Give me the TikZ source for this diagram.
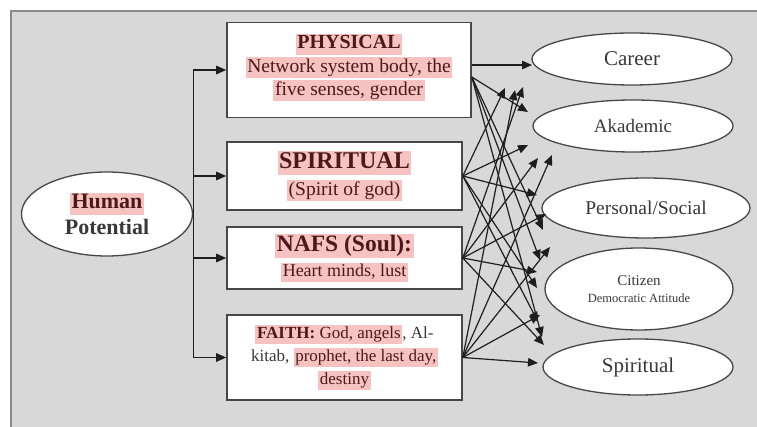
\documentclass[tikz,border=0pt]{standalone}
\usepackage{fontspec}
\setmainfont{Liberation Serif}
\usetikzlibrary{arrows.meta,shapes.geometric}
\definecolor{panel}{HTML}{D8D8D8}
\definecolor{paneledge}{HTML}{8A8A8A}
\definecolor{hlpink}{HTML}{F6C2C2}
\definecolor{hltext}{HTML}{4E1818}
\definecolor{txt}{HTML}{383838}
\definecolor{boxedge}{HTML}{474747}
\definecolor{lineclr}{HTML}{1E1E1E}
\newcommand\hlt[1]{{\setlength{\fboxsep}{1.6pt}\colorbox{hlpink}{\color{hltext}\vphantom{Ay}#1}}}
\tikzset{
  boxnode/.style={draw=boxedge, line width=1.6pt, fill=white, rectangle, inner sep=0pt, align=center, text=txt},
  ellnode/.style={draw=boxedge, line width=1.3pt, fill=white, ellipse, inner sep=0pt, align=center, text=txt},
  conn/.style={draw=lineclr, line width=1.2pt, -{Triangle[length=10pt,width=8.5pt]}}
}
\begin{document}
\begin{tikzpicture}[x=1pt,y=-1pt]
\useasboundingbox (0,0) rectangle (757,427);
\fill[white] (0,0) rectangle (757,427);
\fill[panel] (10,10) rectangle (757,427);
\draw[paneledge, line width=1.6pt] (11,427) -- (11,11) -- (757,11);

% left ellipse
\node[ellnode, minimum width=171, minimum height=84, font=\fontsize{22}{26}\selectfont\bfseries] (hp) at (107,214)
  {\hlt{Human}\\ Potential};

% boxes
\node[boxnode, minimum width=244, minimum height=95, font=\fontsize{19.5}{23.5}\selectfont] (phys) at (349,70)
  {{\fontsize{20}{24}\selectfont\bfseries\hlt{PHYSICAL}}\\ \hlt{Network system body, the}\\ \hlt{five senses, gender}\\[-13pt]};
\node[boxnode, minimum width=235, minimum height=68, font=\fontsize{19.5}{27}\selectfont] (spir) at (344.5,176)
  {{\fontsize{24}{28}\selectfont\bfseries\hlt{SPIRITUAL}}\\ \hlt{(Spirit of god)}};
\node[boxnode, minimum width=235, minimum height=62, font=\fontsize{18}{25}\selectfont] (nafs) at (344.5,258)
  {{\fontsize{23.5}{27}\selectfont\bfseries\hlt{NAFS (Soul):}}\\ \hlt{Heart minds, lust}};
\node[boxnode, minimum width=235, minimum height=85, font=\fontsize{17}{23}\selectfont] (faith) at (344.5,357.5)
  {\hlt{\textbf{FAITH:} God, angels}, Al-\\ kitab, \hlt{prophet, the last day,}\\ \hlt{destiny}};

% right ellipses
\node[ellnode, minimum width=200, minimum height=52, font=\fontsize{21}{25}\selectfont] (career) at (632,59) {Career};
\node[ellnode, minimum width=200, minimum height=52, font=\fontsize{19}{23}\selectfont] (akad) at (633,126) {Akademic};
\node[ellnode, minimum width=208, minimum height=60, font=\fontsize{19.5}{23}\selectfont] (pers) at (646,208) {Personal/Social};
\node[ellnode, minimum width=188, minimum height=82, font=\fontsize{15}{17}\selectfont] (citz) at (639,289)
  {Citizen\\ {\fontsize{12.5}{15}\selectfont Democratic Attitude}};
\node[ellnode, minimum width=190, minimum height=56, font=\fontsize{21}{25}\selectfont] (spirit) at (638,367) {Spiritual};

% trunk from Human Potential to the four boxes
\draw[conn] (hp.east) |- (phys.west);
\draw[conn] (hp.east) |- (spir.west);
\draw[conn] (hp.east) |- (nafs.west);
\draw[conn] (hp.east) |- (faith.west);

% arrow end points
\coordinate (c1) at (532,65);
\coordinate (c2) at (505,88);
\coordinate (c3) at (523,87);
\coordinate (c4) at (515,90);
\coordinate (a1) at (528,112);
\coordinate (a2) at (528,145);
\coordinate (a3) at (538,158);
\coordinate (a4) at (552,155);
\coordinate (p1) at (537,195);
\coordinate (p2) at (543,230);
\coordinate (p3) at (546,214);
\coordinate (p4) at (550,247);
\coordinate (z1) at (540,260);
\coordinate (z2) at (537,288);
\coordinate (z3) at (537,272);
\coordinate (z4) at (540,315);
\coordinate (s1) at (542,337);
\coordinate (s2) at (538,322);
\coordinate (s3) at (544,345);
\coordinate (s4) at (538,363);

% PHYSICAL
\draw[conn] ([yshift=5pt]phys.east) -- (c1);
\draw[conn] ([yshift=-7pt]phys.east) -- (a1);
\draw[conn] ([yshift=-7pt]phys.east) -- (p2);
\draw[conn] ([yshift=-7pt]phys.east) -- (z1);
\draw[conn] ([yshift=-7pt]phys.east) -- (s1);
% SPIRITUAL
\draw[conn] (spir.east) -- (c2);
\draw[conn] (spir.east) -- (a2);
\draw[conn] (spir.east) -- (p1);
\draw[conn] (spir.east) -- (z2);
\draw[conn] (spir.east) -- (s2);
% NAFS
\draw[conn] (nafs.east) -- (c3);
\draw[conn] (nafs.east) -- (a3);
\draw[conn] (nafs.east) -- (p3);
\draw[conn] (nafs.east) -- (z3);
\draw[conn] (nafs.east) -- (s3);
% FAITH
\draw[conn] (faith.east) -- (c4);
\draw[conn] (faith.east) -- (a4);
\draw[conn] (faith.east) -- (p4);
\draw[conn] (faith.east) -- (z4);
\draw[conn] (faith.east) -- (s4);
\end{tikzpicture}
\end{document}
